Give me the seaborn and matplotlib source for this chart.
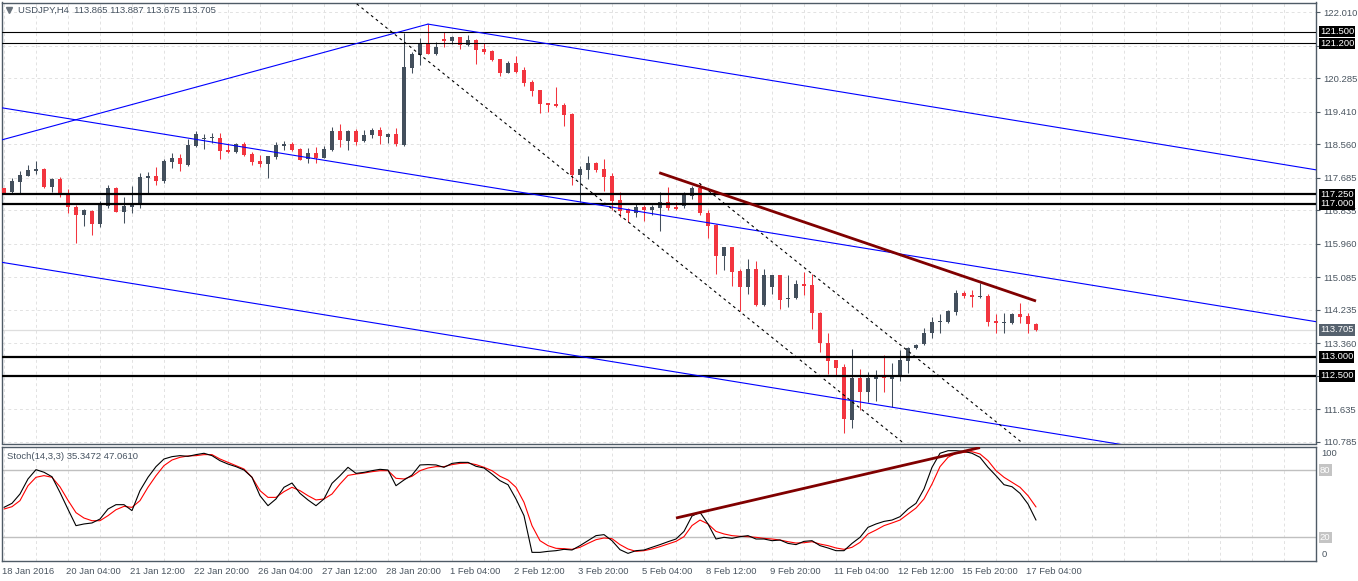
import numpy as np
import pandas as pd
import matplotlib
matplotlib.use("Agg")
import matplotlib.pyplot as plt
from matplotlib.transforms import ScaledTranslation
import seaborn as sns

# USDJPY H4 candles, bar 0 = 18 Jan 20:00
opens = [117.41, 117.30, 117.58, 117.74, 117.87, 117.91, 117.45, 117.65, 117.28, 116.91,
         116.71, 116.81, 116.47, 116.94, 117.41, 116.79, 116.93, 117.01, 117.68, 117.73,
         117.60, 118.10, 118.19, 118.02, 118.52, 118.69, 118.71, 118.73, 118.41, 118.35,
         118.56, 118.30, 118.12, 118.04, 118.23, 118.52, 118.57, 118.43, 118.17, 118.32,
         118.21, 118.41, 118.91, 118.65, 118.91, 118.65, 118.80, 118.93, 118.76, 118.83,
         118.54, 120.56, 120.89, 121.21, 120.92, 121.31, 121.27, 121.35, 121.15, 121.28,
         121.05, 121.00, 120.79, 120.43, 120.69, 120.50, 120.19, 119.98, 119.63, 119.60,
         119.58, 119.35, 117.75, 117.89, 118.06, 117.91, 117.73, 117.10, 116.87, 116.77,
         116.91, 116.84, 116.88, 117.04, 116.93, 116.95, 117.21, 117.42, 116.77, 116.45,
         115.64, 115.86, 115.25, 114.83, 115.30, 114.36, 114.83, 115.14, 114.51, 114.55,
         114.91, 114.88, 114.16, 113.37, 112.92, 112.73, 111.35, 112.44, 112.07, 112.42,
         112.53, 112.42, 112.51, 112.90, 113.22, 113.34, 113.62, 113.92, 113.92, 114.18,
         114.66, 114.62, 114.57, 114.60, 113.94, 113.88, 113.89, 114.12, 114.07, 113.865]
highs = [117.42, 117.68, 117.86, 118.02, 118.12, 117.93, 117.67, 117.71, 117.40, 116.97,
         116.86, 116.84, 117.08, 117.49, 117.43, 117.17, 117.47, 117.80, 117.84, 117.97,
         118.17, 118.32, 118.30, 118.69, 118.91, 118.82, 118.86, 118.85, 118.58, 118.60,
         118.63, 118.36, 118.28, 118.26, 118.63, 118.64, 118.63, 118.47, 118.45, 118.49,
         118.51, 119.02, 119.09, 118.92, 118.95, 118.93, 118.98, 119.02, 118.86, 118.99,
         121.46, 120.98, 121.33, 121.70, 121.24, 121.50, 121.40, 121.37, 121.42, 121.31,
         121.20, 121.02, 120.80, 120.74, 120.87, 120.57, 120.24, 119.99, 119.64, 120.05,
         119.64, 119.38, 117.99, 118.25, 118.10, 118.17, 117.80, 117.32, 116.88, 117.00,
         116.97, 116.97, 117.32, 117.43, 117.04, 117.32, 117.47, 117.54, 116.84, 116.47,
         115.88, 115.88, 115.29, 115.56, 115.51, 115.29, 115.15, 115.15, 115.14, 115.01,
         115.21, 115.17, 114.17, 113.63, 112.93, 112.81, 113.21, 112.68, 112.60, 112.66,
         113.05, 112.83, 113.18, 113.27, 113.33, 113.75, 114.05, 114.12, 114.23, 114.75,
         114.73, 114.75, 114.92, 114.64, 114.12, 114.14, 114.14, 114.40, 114.14, 113.887]
lows = [117.28, 117.28, 117.25, 117.73, 117.78, 117.41, 117.32, 117.17, 116.77, 115.98,
        116.42, 116.19, 116.40, 116.88, 116.79, 116.49, 116.75, 116.88, 117.28, 117.49,
        117.55, 117.95, 117.87, 118.00, 118.50, 118.43, 118.60, 118.17, 118.32, 118.32,
        118.26, 118.02, 117.97, 117.67, 118.17, 118.41, 118.39, 118.14, 118.06, 118.06,
        118.19, 118.39, 118.50, 118.41, 118.54, 118.62, 118.71, 118.57, 118.60, 118.52,
        118.52, 120.43, 120.63, 120.91, 120.89, 121.11, 121.17, 121.05, 121.14, 120.66,
        120.92, 120.74, 120.34, 120.41, 120.43, 120.08, 119.83, 119.38, 119.41, 119.54,
        119.04, 117.49, 117.06, 117.65, 117.84, 117.34, 116.84, 116.66, 116.53, 116.66,
        116.56, 116.71, 116.30, 116.84, 116.84, 116.88, 117.14, 116.71, 116.12, 115.17,
        115.27, 114.85, 114.20, 114.64, 114.34, 114.34, 114.64, 114.24, 114.31, 114.50,
        114.62, 113.73, 113.14, 112.54, 112.53, 111.00, 111.13, 111.61, 111.81, 111.85,
        112.09, 111.68, 112.38, 112.59, 113.20, 113.31, 113.49, 113.62, 113.89, 114.09,
        114.53, 114.30, 114.55, 113.81, 113.63, 113.62, 113.86, 113.88, 113.62, 113.675]
closes = [117.29, 117.60, 117.75, 117.89, 117.91, 117.45, 117.65, 117.25, 116.91, 116.71,
          116.84, 116.47, 116.97, 117.41, 116.80, 116.94, 117.03, 117.70, 117.73, 117.60,
          118.12, 118.19, 118.04, 118.54, 118.82, 118.73, 118.73, 118.39, 118.36, 118.56,
          118.28, 118.10, 118.03, 118.25, 118.54, 118.57, 118.41, 118.15, 118.32, 118.19,
          118.43, 118.91, 118.67, 118.91, 118.63, 118.80, 118.93, 118.78, 118.83, 118.57,
          120.59, 120.92, 121.21, 120.92, 121.11, 121.27, 121.37, 121.15, 121.28, 121.02,
          120.96, 120.76, 120.43, 120.69, 120.44, 120.17, 119.95, 119.61, 119.58, 119.56,
          119.32, 117.75, 117.90, 118.06, 117.89, 117.71, 117.08, 116.82, 116.77, 116.91,
          116.84, 116.91, 117.04, 116.88, 116.87, 117.25, 117.42, 116.75, 116.42, 115.64,
          115.86, 115.23, 114.83, 115.30, 114.36, 115.14, 115.14, 114.49, 114.55, 114.91,
          114.85, 114.15, 113.35, 112.90, 112.70, 111.37, 112.44, 112.07, 112.44, 112.53,
          112.46, 112.51, 112.92, 113.24, 113.31, 113.62, 113.92, 113.95, 114.20, 114.67,
          114.60, 114.57, 114.60, 113.92, 113.88, 113.92, 114.12, 114.05, 113.86, 113.705]

# Stochastic (14,3,3): main (black) and signal (red)
stoch_main = [46.7, 50.3, 58.6, 72.0, 80.3, 78.0, 74.0, 60.0, 45.0, 30.4,
              31.9, 32.8, 36.3, 45.2, 49.1, 49.1, 43.8, 61.6, 73.5, 83.0,
              89.8, 91.9, 92.8, 92.2, 93.7, 94.9, 92.8, 88.3, 85.3, 83.0,
              80.0, 73.5, 57.1, 48.2, 54.2, 64.6, 68.4, 59.2, 53.3, 48.2,
              54.2, 68.1, 74.9, 82.4, 77.0, 77.9, 79.4, 80.6, 80.0, 66.0,
              71.1, 75.5, 84.5, 84.8, 84.5, 82.4, 85.9, 86.8, 86.8, 83.3,
              81.8, 76.4, 70.5, 66.9, 54.2, 39.3, 6.6, 6.6, 7.5, 8.1,
              9.3, 8.7, 12.6, 17.0, 21.5, 22.4, 17.0, 9.0, 5.7, 8.1,
              8.7, 11.1, 13.5, 16.1, 18.5, 25.3, 39.0, 42.3, 31.9, 18.5,
              20.0, 19.1, 20.6, 21.5, 18.5, 18.5, 17.0, 17.6, 14.6, 13.5,
              16.4, 17.0, 12.6, 10.5, 8.1, 8.1, 14.6, 20.0, 28.9, 31.9,
              34.2, 35.4, 38.4, 45.2, 50.3, 63.1, 82.4, 94.9, 97.2, 97.2,
              96.6, 94.9, 91.3, 82.4, 74.9, 66.9, 65.1, 59.2, 49.7, 35.35]
stoch_signal = [45.2, 47.3, 52.7, 66.0, 73.5, 75.0, 73.5, 65.0, 53.0, 42.0,
                37.2, 34.8, 34.8, 39.3, 44.6, 47.6, 46.7, 52.7, 64.6, 74.9,
                83.9, 88.9, 91.3, 92.5, 92.8, 93.7, 93.7, 89.8, 86.8, 83.9,
                80.9, 73.5, 61.6, 55.6, 55.6, 60.7, 64.6, 61.6, 57.1, 53.3,
                54.2, 58.6, 67.5, 75.2, 76.4, 77.3, 78.5, 79.4, 79.4, 72.6,
                72.0, 74.4, 79.4, 81.8, 83.0, 83.0, 84.8, 85.9, 86.2, 84.8,
                82.4, 79.4, 74.4, 71.1, 64.6, 51.2, 30.4, 17.0, 12.6, 10.2,
                9.9, 9.3, 11.1, 14.6, 17.9, 19.4, 18.8, 13.5, 9.6, 7.5,
                8.1, 9.6, 11.7, 14.0, 16.4, 20.6, 30.5, 35.4, 31.9, 25.3,
                23.0, 21.5, 20.9, 20.6, 20.0, 19.1, 18.5, 17.6, 16.1, 14.9,
                15.2, 16.1, 14.0, 12.6, 10.5, 9.3, 11.1, 15.5, 23.0, 26.5,
                30.4, 32.8, 35.4, 40.8, 46.1, 54.2, 67.5, 83.0, 91.3, 94.9,
                95.7, 96.3, 94.3, 88.3, 79.4, 73.5, 69.0, 64.6, 57.1, 47.06]

date_labels = ["18 Jan 2016", "20 Jan 04:00", "21 Jan 12:00", "22 Jan 20:00", "26 Jan 04:00",
               "27 Jan 12:00", "28 Jan 20:00", "1 Feb 04:00", "2 Feb 12:00", "3 Feb 20:00",
               "5 Feb 04:00", "8 Feb 12:00", "9 Feb 20:00", "11 Feb 04:00", "12 Feb 12:00",
               "15 Feb 20:00", "17 Feb 04:00"]
price_ticks = [122.010, 121.135, 120.285, 119.410, 118.560, 117.685, 116.835,
               115.960, 115.085, 114.235, 113.360, 112.510, 111.635, 110.785]
hidden_ticks = [121.135, 112.510]

# drawn objects (bar index, price)
thin_levels = [121.5, 121.2]
thick_levels = [117.25, 117.0, 113.0, 112.5]
bid_price = 113.705
channel_rise = ([-0.5, 53], [118.66, 121.70])
channel_top = ([53, 164], [121.70, 117.89])
channel_mid = ([-0.5, 164], [119.52, 113.92])
channel_low = ([-0.5, 164], [115.48, 109.88])
dash_a = ([43.5, 112.6], [122.33, 110.72])
dash_b = ([86.9, 127.3], [117.54, 110.75])
resistance = ([81.9, 129.0], [117.815, 114.46])
stoch_trend = ([84, 122], [37.2, 100.0])

BULL = "#434f5c"
BEAR = "#f2353f"
SPINE = "#4f5b66"
TXT = "#4a5560"
GRID = "#e2e2e2"
FS = 6.8

sns.set_style("white")
plt.rcParams['font.family'] = ['Liberation Sans', 'DejaVu Sans']

W, H = 1358, 581
fig = plt.figure(figsize=(W / 100, H / 100), dpi=100)
ax = fig.add_axes([2.3 / W, 1 - 443.5 / H, 1313.4 / W, 441 / H])
ax2 = fig.add_axes([2.3 / W, 1 - 561 / H, 1313.4 / W, 114 / H])

df = pd.DataFrame({"open": opens, "high": highs, "low": lows, "close": closes})
df["bar"] = np.arange(len(df))
up = df["close"] >= df["open"]
cols = np.where(up, BULL, BEAR)

# candles
ax.vlines(df["bar"], df["low"], df["high"], colors=cols, linewidth=0.75, zorder=3)
body_low = np.minimum(df["open"], df["close"])
body_h = np.maximum((df["close"] - df["open"]).abs(), 0.03)
ax.bar(df["bar"], body_h, bottom=body_low, width=0.62, color=cols, linewidth=0, zorder=4)

# bid line and levels
ax.axhline(bid_price, color="#dedede", linewidth=0.9, zorder=1)
for lv in thin_levels:
    ax.axhline(lv, color="black", linewidth=0.8, zorder=5)
for lv in thick_levels:
    ax.axhline(lv, color="black", linewidth=1.6, zorder=5)

for xs, ys in [channel_rise, channel_top, channel_mid, channel_low]:
    ax.plot(xs, ys, color="#0000ff", linewidth=0.8, zorder=5)
for xs, ys in [dash_a, dash_b]:
    ax.plot(xs, ys, color="black", linewidth=0.8, linestyle=(0, (2.5, 3)), zorder=5)
ax.plot(*resistance, color="#800000", linewidth=2.0, zorder=6, solid_capstyle="butt")

# stochastic panel
stoch_df = pd.DataFrame({"bar": np.arange(len(stoch_main)), "main": stoch_main, "signal": stoch_signal})
sns.lineplot(data=stoch_df, x="bar", y="main", color="black", linewidth=0.8, ax=ax2, zorder=4)
sns.lineplot(data=stoch_df, x="bar", y="signal", color="#ff0000", linewidth=0.8, ax=ax2, zorder=3)
ax2.axhline(80, color="#c0c0c0", linewidth=1.0, zorder=1)
ax2.axhline(20, color="#c0c0c0", linewidth=1.0, zorder=1)
ax2.plot(*stoch_trend, color="#800000", linewidth=2.0, zorder=6, solid_capstyle="butt")
ax2.set_xlabel("")
ax2.set_ylabel("")

# axes ranges, grid, ticks
major = np.arange(0, 129, 8)
minor = np.array([t for t in np.arange(0, 164, 4) if t not in major])
for a in (ax, ax2):
    a.set_xlim(-0.21, 163.96)
    a.set_xticks(major)
    a.set_xticks(minor, minor=True)
    a.grid(which="both", axis="x", color=GRID, linestyle=(0, (3, 3)), linewidth=0.7, zorder=0)
    a.set_axisbelow(True)
    for s in a.spines.values():
        s.set_color(SPINE)
        s.set_linewidth(1.0)
        s.set_visible(True)

ax.set_ylim(110.735, 122.265)
ax.yaxis.tick_right()
ax.set_yticks(price_ticks)
ax.set_yticklabels(["" if p in hidden_ticks else f"{p:.3f}" for p in price_ticks])
ax.grid(which="major", axis="y", color=GRID, linestyle=(0, (3, 3)), linewidth=0.7, zorder=0)
ax.tick_params(axis="y", length=3, width=0.8, color=SPINE, labelsize=FS, labelcolor=TXT, pad=2.2)
ax.tick_params(axis="x", which="both", length=0, labelbottom=False)

ax2.set_ylim(-1.1, 100.5)
ax2.set_yticks([])
ax2.set_xticklabels(date_labels, ha="left")
ax2.tick_params(axis="x", which="major", length=3, width=0.8, color=SPINE, labelsize=FS,
                labelcolor=TXT, pad=1)
ax2.tick_params(axis="x", which="minor", length=0)
shift = ScaledTranslation(-2 / 100, 0, fig.dpi_scale_trans)
for lab in ax2.get_xticklabels():
    lab.set_transform(lab.get_transform() + shift)

# texts
ax.plot([0.0052], [0.983], marker="v", color="#6a737c", markersize=4, transform=ax.transAxes,
        clip_on=False)
ax.text(0.012, 0.983, "USDJPY,H4  113.865 113.887 113.675 113.705", transform=ax.transAxes,
        ha="left", va="center", fontsize=FS, color="#465361")
ax2.text(0.0036, 0.915, "Stoch(14,3,3) 35.3472 47.0610", transform=ax2.transAxes,
         ha="left", va="center", fontsize=FS, color="#465361")


def price_box(a, y, text, fc, tc="white"):
    a.text(1.0032, y, text, transform=a.get_yaxis_transform(), ha="left", va="center",
           fontsize=FS, color=tc, zorder=10, clip_on=False,
           bbox=dict(boxstyle="square,pad=0.12", fc=fc, ec="none"))


for lv in thin_levels + thick_levels:
    price_box(ax, lv, f"{lv:.3f}", "black")
price_box(ax, bid_price, f"{bid_price:.3f}", "#56626e")

ax2.text(1.0045, 94.8, "100", transform=ax2.get_yaxis_transform(), ha="left", va="center",
         fontsize=FS, color=TXT, clip_on=False)
ax2.text(1.0045, 5.1, "0", transform=ax2.get_yaxis_transform(), ha="left", va="center",
         fontsize=FS, color=TXT, clip_on=False)
price_box(ax2, 80, "80", "#c4c4c4")
price_box(ax2, 20, "20", "#c4c4c4")

fig.savefig("out.png", dpi=100, facecolor="white")
plt.close(fig)
